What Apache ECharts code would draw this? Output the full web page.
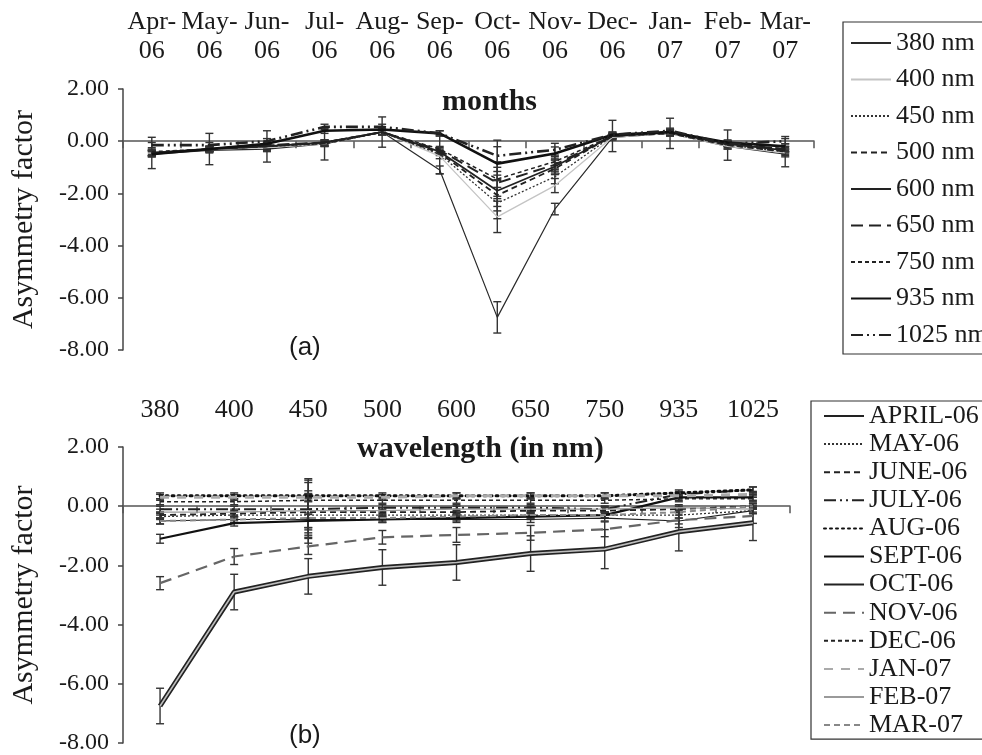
<!DOCTYPE html>
<html>
<head>
<meta charset="utf-8">
<script src="https://cdn.jsdelivr.net/npm/echarts@6/dist/echarts.min.js"></script>
<style>
  html, body { margin: 0; padding: 0; background: #fff; }
  #chart { width: 982px; height: 755px; }
</style>
</head>
<body>
<div id="chart"></div>
<script>
// categories
const monthLabels = ["Apr-\n06", "May-\n06", "Jun-\n06", "Jul-\n06", "Aug-\n06", "Sep-\n06",
  "Oct-\n06", "Nov-\n06", "Dec-\n06", "Jan-\n07", "Feb-\n07", "Mar-\n07"]
const monthNames = ["APRIL-06", "MAY-06", "JUNE-06", "JULY-06", "AUG-06", "SEPT-06",
  "OCT-06", "NOV-06", "DEC-06", "JAN-07", "FEB-07", "MAR-07"]
const wavelengths = ["380", "400", "450", "500", "600", "650", "750", "935", "1025"]
const wavelengthNames = ["380 nm", "400 nm", "450 nm", "500 nm", "600 nm", "650 nm", "750 nm", "935 nm", "1025 nm"]

// asymmetry factor per month, one value per wavelength (380 ... 1025 nm)
const apr06 = [-0.5, -0.45, -0.45, -0.45, -0.45, -0.45, -0.4, -0.5, -0.15]
const may06 = [-0.35, -0.3, -0.3, -0.3, -0.3, -0.3, -0.3, -0.3, -0.15]
const jun06 = [-0.3, -0.25, -0.2, -0.2, -0.2, -0.15, -0.15, -0.1, 0.0]
const jul06 = [-0.1, -0.1, -0.1, -0.05, -0.05, -0.05, -0.1, 0.4, 0.55]
const aug06 = [0.35, 0.35, 0.35, 0.35, 0.35, 0.35, 0.35, 0.45, 0.55]
const sep06 = [-1.1, -0.57, -0.5, -0.45, -0.4, -0.35, -0.3, 0.3, 0.3]
const oct06 = [-6.75, -2.9, -2.37, -2.07, -1.9, -1.6, -1.45, -0.86, -0.56]
const nov06 = [-2.6, -1.7, -1.36, -1.05, -0.97, -0.9, -0.78, -0.47, -0.33]
const dec06 = [0.15, 0.15, 0.2, 0.2, 0.2, 0.2, 0.2, 0.25, 0.25]
const jan07 = [0.3, 0.3, 0.3, 0.3, 0.35, 0.35, 0.35, 0.35, 0.4]
const feb07 = [-0.2, -0.2, -0.15, -0.15, -0.1, -0.1, -0.1, -0.05, -0.1]
const mar07 = [-0.5, -0.45, -0.4, -0.4, -0.35, -0.3, -0.3, -0.2, 0.0]

// error bar half-heights, same layout
const errApr06 = [0.1, 0.1, 0.6, 0.1, 0.1, 0.1, 0.1, 0.1, 0.1]
const errMay06 = [0.1, 0.1, 0.6, 0.1, 0.1, 0.1, 0.1, 0.1, 0.1]
const errJun06 = [0.1, 0.1, 0.6, 0.1, 0.1, 0.1, 0.1, 0.1, 0.1]
const errJul06 = [0.1, 0.1, 0.62, 0.1, 0.1, 0.1, 0.1, 0.1, 0.1]
const errAug06 = [0.1, 0.1, 0.58, 0.1, 0.1, 0.1, 0.1, 0.1, 0.1]
const errSep06 = [0.15, 0.1, 0.75, 0.1, 0.1, 0.1, 0.1, 0.1, 0.1]
const errOct06 = [0.6, 0.6, 0.6, 0.6, 0.6, 0.6, 0.66, 0.65, 0.6]
const errNov06 = [0.22, 0.27, 0.27, 0.23, 0.25, 0.25, 0.25, 0.25, 0.25]
const errDec06 = [0.1, 0.1, 0.6, 0.1, 0.1, 0.1, 0.1, 0.1, 0.1]
const errJan07 = [0.1, 0.1, 0.58, 0.1, 0.1, 0.1, 0.1, 0.1, 0.1]
const errFeb07 = [0.1, 0.1, 0.58, 0.1, 0.1, 0.1, 0.1, 0.1, 0.1]
const errMar07 = [0.1, 0.1, 0.58, 0.1, 0.1, 0.1, 0.1, 0.1, 0.1]

const yTicks = { min: -8, max: 2, interval: 2 }

const rows = [apr06, may06, jun06, jul06, aug06, sep06, oct06, nov06, dec06, jan07, feb07, mar07]
const errRows = [errApr06, errMay06, errJun06, errJul06, errAug06, errSep06, errOct06, errNov06,
  errDec06, errJan07, errFeb07, errMar07]

const SERIF = "'Liberation Serif', 'DejaVu Serif', serif"
const SANS = "'Liberation Sans', Arial, sans-serif"
const INK = "#1a1a1a"

// line looks, wavelength chart (a)
const wlStyles = [
  { color: "#2a2a2a", width: 1.2, type: "solid" },
  { color: "#c4c4c4", width: 1.3, type: "solid" },
  { color: "#333", width: 1.3, type: [2, 2] },
  { color: "#222", width: 1.8, type: [6, 4] },
  { color: "#222", width: 1.8, type: "solid" },
  { color: "#222", width: 2, type: [12, 6] },
  { color: "#222", width: 1.5, type: [4, 3] },
  { color: "#111", width: 2.6, type: "solid" },
  { color: "#222", width: 2.6, type: [12, 4, 2, 4, 2, 4] },
]
// line looks, month chart (b)
const monthStyles = [
  { color: "#222", width: 1.2, type: "solid" },
  { color: "#333", width: 1.3, type: [2, 2] },
  { color: "#222", width: 1.8, type: [6, 4] },
  { color: "#222", width: 2, type: [12, 4, 2, 4, 2, 4] },
  { color: "#111", width: 3, type: [2, 4], cap: "round" },
  { color: "#111", width: 2.2, type: "solid" },
  { color: "#222", width: 5, type: "solid" },
  { color: "#666", width: 2.2, type: [12, 7] },
  { color: "#222", width: 1.5, type: [4, 3] },
  { color: "#aaa", width: 3, type: [9, 8] },
  { color: "#9a9a9a", width: 1.2, type: "solid" },
  { color: "#888", width: 2, type: [6, 4] },
]

function errorBars(params, api) {
  const lo = api.coord([api.value(0), api.value(1)])
  const hi = api.coord([api.value(0), api.value(2)])
  const w = 4
  const style = { stroke: "#333", lineWidth: 1.4 }
  return {
    type: "group",
    children: [
      { type: "line", shape: { x1: lo[0], y1: lo[1], x2: hi[0], y2: hi[1] }, style },
      { type: "line", shape: { x1: lo[0] - w, y1: lo[1], x2: lo[0] + w, y2: lo[1] }, style },
      { type: "line", shape: { x1: hi[0] - w, y1: hi[1], x2: hi[0] + w, y2: hi[1] }, style },
    ],
  }
}

function lineSeries(name, data, st, xi, yi) {
  return {
    name, type: "line", data, xAxisIndex: xi, yAxisIndex: yi,
    symbol: "none", animation: false,
    lineStyle: { color: st.color, width: st.width, type: st.type, cap: st.cap || "butt" },
    itemStyle: { color: st.color },
  }
}

const seriesA = wavelengthNames.map((n, j) =>
  lineSeries(n, rows.map((r) => r[j]), wlStyles[j], 0, 0))
const errA = []
rows.forEach((r, i) => r.forEach((v, j) => errA.push([i, v - errRows[i][j], v + errRows[i][j]])))

const seriesB = monthNames.map((n, i) => lineSeries(n, rows[i], monthStyles[i], 2, 1))
const errB = []
rows.forEach((r, i) => r.forEach((v, j) => errB.push([j, v - errRows[i][j], v + errRows[i][j]])))

function valueAxis(gridIndex) {
  return {
    type: "value", gridIndex, ...yTicks,
    axisLine: { show: true, onZero: false, lineStyle: { color: "#444", width: 1.5 } },
    axisTick: { show: true, length: 5, lineStyle: { color: "#444", width: 1.5 } },
    splitLine: { show: false },
    axisLabel: { color: INK, fontFamily: SERIF, fontSize: 24, margin: 14, formatter: (v) => v.toFixed(2) },
    name: "Asymmetry factor", nameLocation: "middle", nameGap: 84,
    nameTextStyle: { color: INK, fontFamily: SERIF, fontSize: 30 },
  }
}
function labelAxis(gridIndex, data, margin, lineHeight) {
  return {
    type: "category", gridIndex, data, position: "top",
    axisLine: { show: false, onZero: false }, axisTick: { show: false },
    axisLabel: { color: INK, fontFamily: SERIF, fontSize: 26, lineHeight, margin, interval: 0 },
  }
}
function zeroAxis(gridIndex, data, yIndex) {
  return {
    type: "category", gridIndex, data, position: "bottom",
    axisLine: { show: true, onZero: true, onZeroAxisIndex: yIndex, lineStyle: { color: "#555", width: 1.5 } },
    axisTick: { show: true, length: 7, lineStyle: { color: "#555", width: 1.5 } },
    axisLabel: { show: false },
  }
}

const legendBase = {
  orient: "vertical", itemWidth: 40, itemHeight: 14,
  itemStyle: { opacity: 0 },
  borderColor: "#333", borderWidth: 1.2,
  textStyle: { fontFamily: SERIF, fontSize: 26, color: INK },
}

const chart = echarts.init(document.getElementById("chart"))
chart.setOption({
  animation: false,
  backgroundColor: "#fff",
  title: [
    { text: "months", left: 437, top: 82, textStyle: { fontFamily: SERIF, fontSize: 30, fontWeight: "bold", color: INK } },
    { text: "wavelength (in nm)", left: 352, top: 429, textStyle: { fontFamily: SERIF, fontSize: 30, fontWeight: "bold", color: INK } },
    { text: "(a)", left: 284, top: 330, textStyle: { fontFamily: SANS, fontSize: 26, fontWeight: "normal", color: INK } },
    { text: "(b)", left: 284, top: 718, textStyle: { fontFamily: SANS, fontSize: 26, fontWeight: "normal", color: INK } },
  ],
  grid: [
    { left: 123, right: 168, top: 89, bottom: 405 },
    { left: 123, right: 192, top: 447, bottom: 9 },
  ],
  xAxis: [
    labelAxis(0, monthLabels, 23, 29),
    zeroAxis(0, monthLabels, 0),
    labelAxis(1, wavelengths, 24, 26),
    zeroAxis(1, wavelengths, 1),
  ],
  yAxis: [valueAxis(0), valueAxis(1)],
  legend: [
    { ...legendBase, data: wavelengthNames, left: 843, top: 22, itemGap: 10.5, padding: [8, 30, 6, 7] },
    { ...legendBase, data: monthNames, left: 811, top: 401, itemGap: 2.1, padding: [2, 4, 1, 12] },
  ],
  series: [
    ...seriesA,
    { type: "custom", xAxisIndex: 0, yAxisIndex: 0, renderItem: errorBars, data: errA, z: 3, silent: true },
    ...seriesB,
    // inner light stroke of the double OCT-06 line
    {
      type: "line", data: oct06, xAxisIndex: 2, yAxisIndex: 1, symbol: "none", silent: true, z: 4,
      lineStyle: { color: "#bdbdbd", width: 1.6 },
    },
    { type: "custom", xAxisIndex: 2, yAxisIndex: 1, renderItem: errorBars, data: errB, z: 3, silent: true },
  ],
})
</script>
</body>
</html>
